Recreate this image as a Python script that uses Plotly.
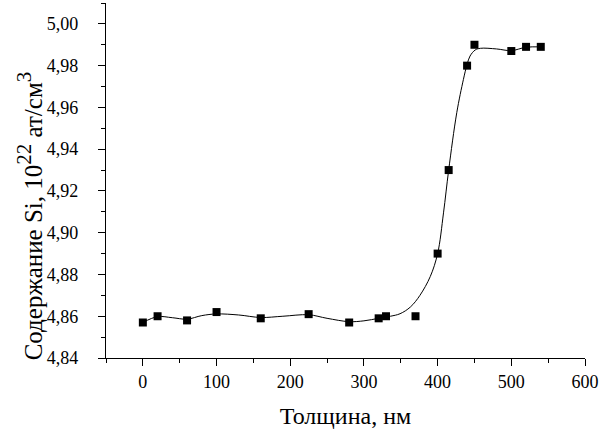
import plotly.graph_objects as go

# Measured points
thickness = [0, 20, 60, 100, 160, 225, 280, 320, 330, 370, 400, 415, 440, 450, 500, 520, 540]
si_content = [4.857, 4.860, 4.858, 4.862, 4.859, 4.861, 4.857, 4.859, 4.860, 4.860,
              4.890, 4.930, 4.980, 4.990, 4.987, 4.989, 4.989]

# Smoothed curve
fit_x = [0, 20, 40, 60, 80, 100, 130, 160, 190, 225, 250, 280, 300, 320, 336, 349, 363,
         376, 390, 400, 408, 415, 426, 435, 440, 444, 451, 458, 480, 500, 520, 540]
fit_y = [4.857, 4.8598, 4.8593, 4.8586, 4.8603, 4.8611, 4.8606, 4.8594, 4.8600, 4.8607,
         4.8590, 4.8574, 4.8578, 4.8590, 4.8600, 4.8612, 4.8644, 4.870, 4.879, 4.890,
         4.9095, 4.930, 4.9575, 4.9734, 4.9806, 4.9846, 4.9875, 4.9883, 4.9880, 4.9872,
         4.9888, 4.989]

x_title = "Толщина, нм"
y_title = ("Содержание Si, 10<sup><span style='font-size:21px'>22</span></sup>"
           " ат/см<sup><span style='font-size:21px'>3</span></sup>")

FONT = "Liberation Serif"

fig = go.Figure()
fig.add_trace(go.Scatter(x=fit_x, y=fit_y, mode="lines",
                         line=dict(color="black", width=1, shape="spline", smoothing=1.0),
                         hoverinfo="skip", showlegend=False))
fig.add_trace(go.Scatter(x=thickness, y=si_content, mode="markers",
                         marker=dict(symbol="square", size=8, color="black"),
                         showlegend=False))

axis_common = dict(
    showline=True, linecolor="black", linewidth=1.3, mirror=False,
    showgrid=False, zeroline=False,
    ticks="outside", ticklen=7, tickwidth=1.3, tickcolor="black",
    tickfont=dict(family=FONT, size=18, color="black"),
)

fig.update_layout(
    width=608, height=434,
    margin=dict(l=106, r=23, t=3, b=76),
    paper_bgcolor="white", plot_bgcolor="white",
    separators=", ",
    font=dict(family=FONT, color="black"),
    xaxis=dict(
        range=[-50, 600], tickmode="linear", tick0=0, dtick=100,
        minor=dict(ticks="outside", ticklen=4, tickwidth=1.3, tickcolor="black", dtick=50, tick0=0),
        title=dict(text=x_title, font=dict(family=FONT, size=24, color="black"), standoff=16),
        ticklabelstandoff=0,
        **axis_common,
    ),
    yaxis=dict(
        range=[4.84, 5.01], tickmode="linear", tick0=4.84, dtick=0.02, tickformat=".2f",
        minor=dict(ticks="outside", ticklen=4, tickwidth=1.3, tickcolor="black", dtick=0.01, tick0=4.84),
        ticklabelstandoff=16,
        **axis_common,
    ),
    annotations=[dict(
        text=y_title, textangle=-90, showarrow=False,
        xref="paper", yref="paper", x=-0.16, y=0.40,
        xanchor="center", yanchor="middle",
        font=dict(family=FONT, size=25, color="black"),
    )],
)

fig.write_html("out.html")
